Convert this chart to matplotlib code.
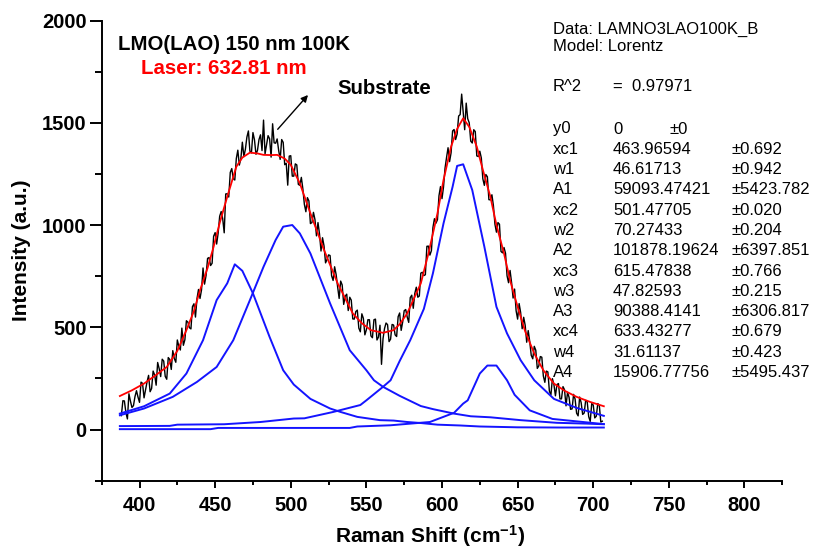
import numpy as np
import matplotlib.pyplot as plt
from matplotlib.ticker import MultipleLocator

plt.rcParams['font.family'] = ['Liberation Sans', 'DejaVu Sans']
plt.rcParams['mathtext.fontset'] = 'custom'
plt.rcParams['mathtext.rm'] = 'Liberation Sans:bold'
plt.rcParams['mathtext.default'] = 'rm'

# measured spectrum, 388..706 cm-1 every 1 cm-1
shift = np.arange(388, 707, 1)
counts = [
    68, 141, 140, 83, 52, 175, 139, 108, 117, 161, 190, 159, 133, 232, 226, 155, 194, 234, 265, 185,
    201, 286, 267, 217, 328, 298, 259, 344, 335, 260, 246, 352, 343, 294, 386, 347, 329, 438, 407, 389,
    496, 412, 439, 532, 525, 498, 492, 601, 615, 550, 640, 685, 641, 683, 790, 711, 753, 837, 841, 802,
    813, 945, 963, 907, 961, 1043, 1066, 1031, 962, 1152, 1153, 1137, 1257, 1276, 1226, 1220, 1325, 1366, 1293, 1324,
    1405, 1335, 1370, 1430, 1460, 1361, 1353, 1452, 1417, 1346, 1365, 1418, 1441, 1364, 1513, 1348, 1393, 1437, 1422, 1332,
    1495, 1402, 1400, 1421, 1365, 1321, 1418, 1404, 1295, 1302, 1195, 1337, 1339, 1239, 1239, 1299, 1294, 1199, 1194, 1233,
    1177, 1101, 1065, 1134, 1118, 1007, 1012, 1062, 1027, 947, 1012, 957, 873, 938, 898, 815, 832, 854, 851, 752,
    729, 796, 758, 697, 641, 726, 707, 612, 652, 662, 582, 647, 633, 541, 540, 577, 584, 496, 478, 566,
    544, 463, 488, 537, 537, 458, 449, 537, 540, 438, 452, 510, 319, 444, 494, 521, 513, 430, 442, 514,
    511, 463, 455, 552, 570, 485, 526, 581, 587, 550, 524, 645, 657, 593, 665, 696, 647, 653, 765, 769,
    753, 757, 896, 897, 853, 875, 988, 1031, 1009, 1026, 1143, 1188, 1129, 1186, 1278, 1330, 1378, 1310, 1353, 1460,
    1467, 1418, 1445, 1533, 1540, 1640, 1552, 1466, 1596, 1520, 1500, 1410, 1401, 1466, 1457, 1338, 1335, 1361, 1328, 1226,
    1194, 1247, 1236, 1124, 1123, 1148, 1094, 1004, 965, 1012, 1004, 871, 864, 890, 862, 752, 718, 778, 719, 643,
    687, 581, 540, 616, 572, 493, 549, 510, 427, 484, 431, 363, 346, 407, 388, 299, 311, 357, 354, 262,
    231, 286, 282, 188, 169, 249, 220, 165, 220, 225, 150, 150, 210, 195, 116, 182, 158, 99, 101, 172,
    149, 80, 67, 159, 132, 74, 81, 143, 136, 63, 40, 127, 120, 57, 65, 127, 119, 37, 41,
]

# cumulative Lorentz fit
fit_x = [387, 395, 403, 410, 418, 425, 431, 436, 440, 445, 449, 453, 458, 464,
         468, 473, 478, 482, 487, 491, 496, 500, 506, 513, 522, 531, 541, 547,
         553, 561, 568, 572, 577, 586, 591, 597, 601, 606, 610, 614, 618, 623,
         627, 632, 636, 641, 645, 650, 655, 661, 667, 674, 681, 689, 698, 707]
fit_y = [164, 192, 225, 262, 306, 385, 486, 580, 681, 790, 894, 1010, 1138, 1285,
         1330, 1354, 1350, 1343, 1342, 1343, 1325, 1294, 1204, 1057, 878, 715, 568, 520,
         486, 473, 486, 515, 568, 715, 860, 1057, 1220, 1383, 1470, 1522, 1480, 1383,
         1270, 1138, 1000, 861, 730, 600, 480, 372, 290, 225, 190, 160, 135, 114]

# individual Lorentz components
peak1_x = [387, 403, 420, 431, 442, 451, 458, 463, 468, 475, 486, 495, 502, 513,
           526, 533, 544, 559, 568, 577, 586, 597, 612, 625, 650, 678, 707]
peak1_y = [78, 114, 176, 274, 437, 633, 715, 808, 776, 666, 453, 290, 220, 150,
           103, 86, 62, 46, 44, 37, 32, 24, 20, 15, 11, 10, 10]

peak2_x = [387, 403, 422, 438, 451, 462, 473, 482, 490, 495, 501, 506, 513, 526,
           539, 550, 555, 561, 572, 586, 594, 608, 619, 632, 652, 676, 696, 707]
peak2_y = [70, 103, 160, 233, 306, 437, 633, 796, 927, 992, 1000, 959, 861, 617,
           388, 290, 241, 209, 165, 115, 100, 78, 65, 60, 46, 33, 29, 26]

peak3_x = [387, 420, 425, 456, 480, 502, 509, 528, 546, 550, 561, 566, 572, 579,
           588, 594, 601, 607, 610, 614, 620, 628, 636, 643, 652, 661, 674, 689, 707]
peak3_y = [17, 18, 24, 26, 37, 54, 55, 86, 120, 143, 209, 241, 335, 437,
           590, 764, 1008, 1187, 1289, 1297, 1171, 894, 600, 470, 339, 241, 150, 106, 67]

peak4_x = [387, 447, 452, 539, 544, 566, 592, 608, 614, 617, 623, 625, 630, 636,
           643, 648, 658, 673, 704, 707]
peak4_y = [2, 2, 8, 8, 15, 21, 37, 82, 127, 143, 241, 274, 313, 313,
           241, 170, 94, 52, 29, 27]

fit_rows = [
    ("y0", "0", "\u00b10"),
    ("xc1", "463.96594", "\u00b10.692"),
    ("w1", "46.61713", "\u00b10.942"),
    ("A1", "59093.47421", "\u00b15423.782"),
    ("xc2", "501.47705", "\u00b10.020"),
    ("w2", "70.27433", "\u00b10.204"),
    ("A2", "101878.19624", "\u00b16397.851"),
    ("xc3", "615.47838", "\u00b10.766"),
    ("w3", "47.82593", "\u00b10.215"),
    ("A3", "90388.4141", "\u00b16306.817"),
    ("xc4", "633.43277", "\u00b10.679"),
    ("w4", "31.61137", "\u00b10.423"),
    ("A4", "15906.77756", "\u00b15495.437"),
]

W, H = 814, 552
fig = plt.figure(figsize=(W / 100, H / 100), dpi=100)
ax = fig.add_axes([101.7 / W, 1 - 480.7 / H, (782.3 - 101.7) / W, (480.7 - 20.5) / H])

blue = '#1414ff'
ax.plot(shift, counts, color='black', lw=1.0, zorder=2)
for px, py in [(peak1_x, peak1_y), (peak2_x, peak2_y), (peak3_x, peak3_y), (peak4_x, peak4_y)]:
    ax.plot(px, py, color=blue, lw=1.4, zorder=3)
ax.plot(fit_x, fit_y, color='red', lw=1.3, zorder=4)

ax.set_xlim(375, 825)
ax.set_ylim(-250, 2000)
ax.xaxis.set_major_locator(MultipleLocator(50))
ax.xaxis.set_minor_locator(MultipleLocator(25))
ax.yaxis.set_major_locator(MultipleLocator(500))
ax.yaxis.set_minor_locator(MultipleLocator(250))
ax.spines['top'].set_visible(False)
ax.spines['right'].set_visible(False)
for s in ('left', 'bottom'):
    ax.spines[s].set_linewidth(1.4)
ax.tick_params(axis='both', which='both', direction='out', width=1.4)
ax.tick_params(axis='x', which='major', length=5, pad=6)
ax.tick_params(axis='x', which='minor', length=3)
ax.tick_params(axis='y', which='major', length=9, pad=2)
ax.tick_params(axis='y', which='minor', length=5)
for lab in ax.get_xticklabels() + ax.get_yticklabels():
    lab.set_fontsize(14.5)
    lab.set_fontweight('bold')

ax.set_xlabel('Raman Shift (cm$^{-1}$)', fontsize=15, fontweight='bold')
ax.xaxis.set_label_coords(0.483, -0.093)
ax.set_ylabel('Intensity (a.u.)', fontsize=15, fontweight='bold', labelpad=8)

fig.text(118 / W, 1 - 44 / H, 'LMO(LAO) 150 nm 100K', fontsize=14.7, fontweight='bold',
         va='center', ha='left')
fig.text(141 / W, 1 - 68 / H, 'Laser: 632.81 nm', fontsize=14.7, fontweight='bold',
         color='red', va='center', ha='left')
fig.text(337 / W, 1 - 89 / H, 'Substrate', fontsize=14.7, fontweight='bold',
         va='center', ha='left')
ax.annotate('', xy=(308, H - 95), xycoords='figure pixels',
            xytext=(277.7, H - 129.3), textcoords='figure pixels',
            arrowprops=dict(arrowstyle='-|>', color='black', lw=1.0,
                            mutation_scale=10, shrinkA=0, shrinkB=0))

# fit report
fs = 12
fig.text(553 / W, 1 - 29 / H, 'Data: LAMNO3LAO100K_B', fontsize=fs, va='center')
fig.text(553 / W, 1 - 46.7 / H, 'Model: Lorentz', fontsize=fs, va='center')
fig.text(553 / W, 1 - 86.7 / H, 'R^2', fontsize=fs, va='center')
fig.text(613 / W, 1 - 86.7 / H, '=  0.97971', fontsize=fs, va='center')
for i, (name, val, err) in enumerate(fit_rows):
    yy = 1 - (129 + 20.3 * i) / H
    fig.text(553 / W, yy, name, fontsize=fs, va='center')
    fig.text(613 / W, yy, val, fontsize=fs, va='center')
    ex = 670 if name == 'y0' else 732
    fig.text(ex / W, yy, err, fontsize=fs, va='center')

fig.savefig('out.png', dpi=100)
